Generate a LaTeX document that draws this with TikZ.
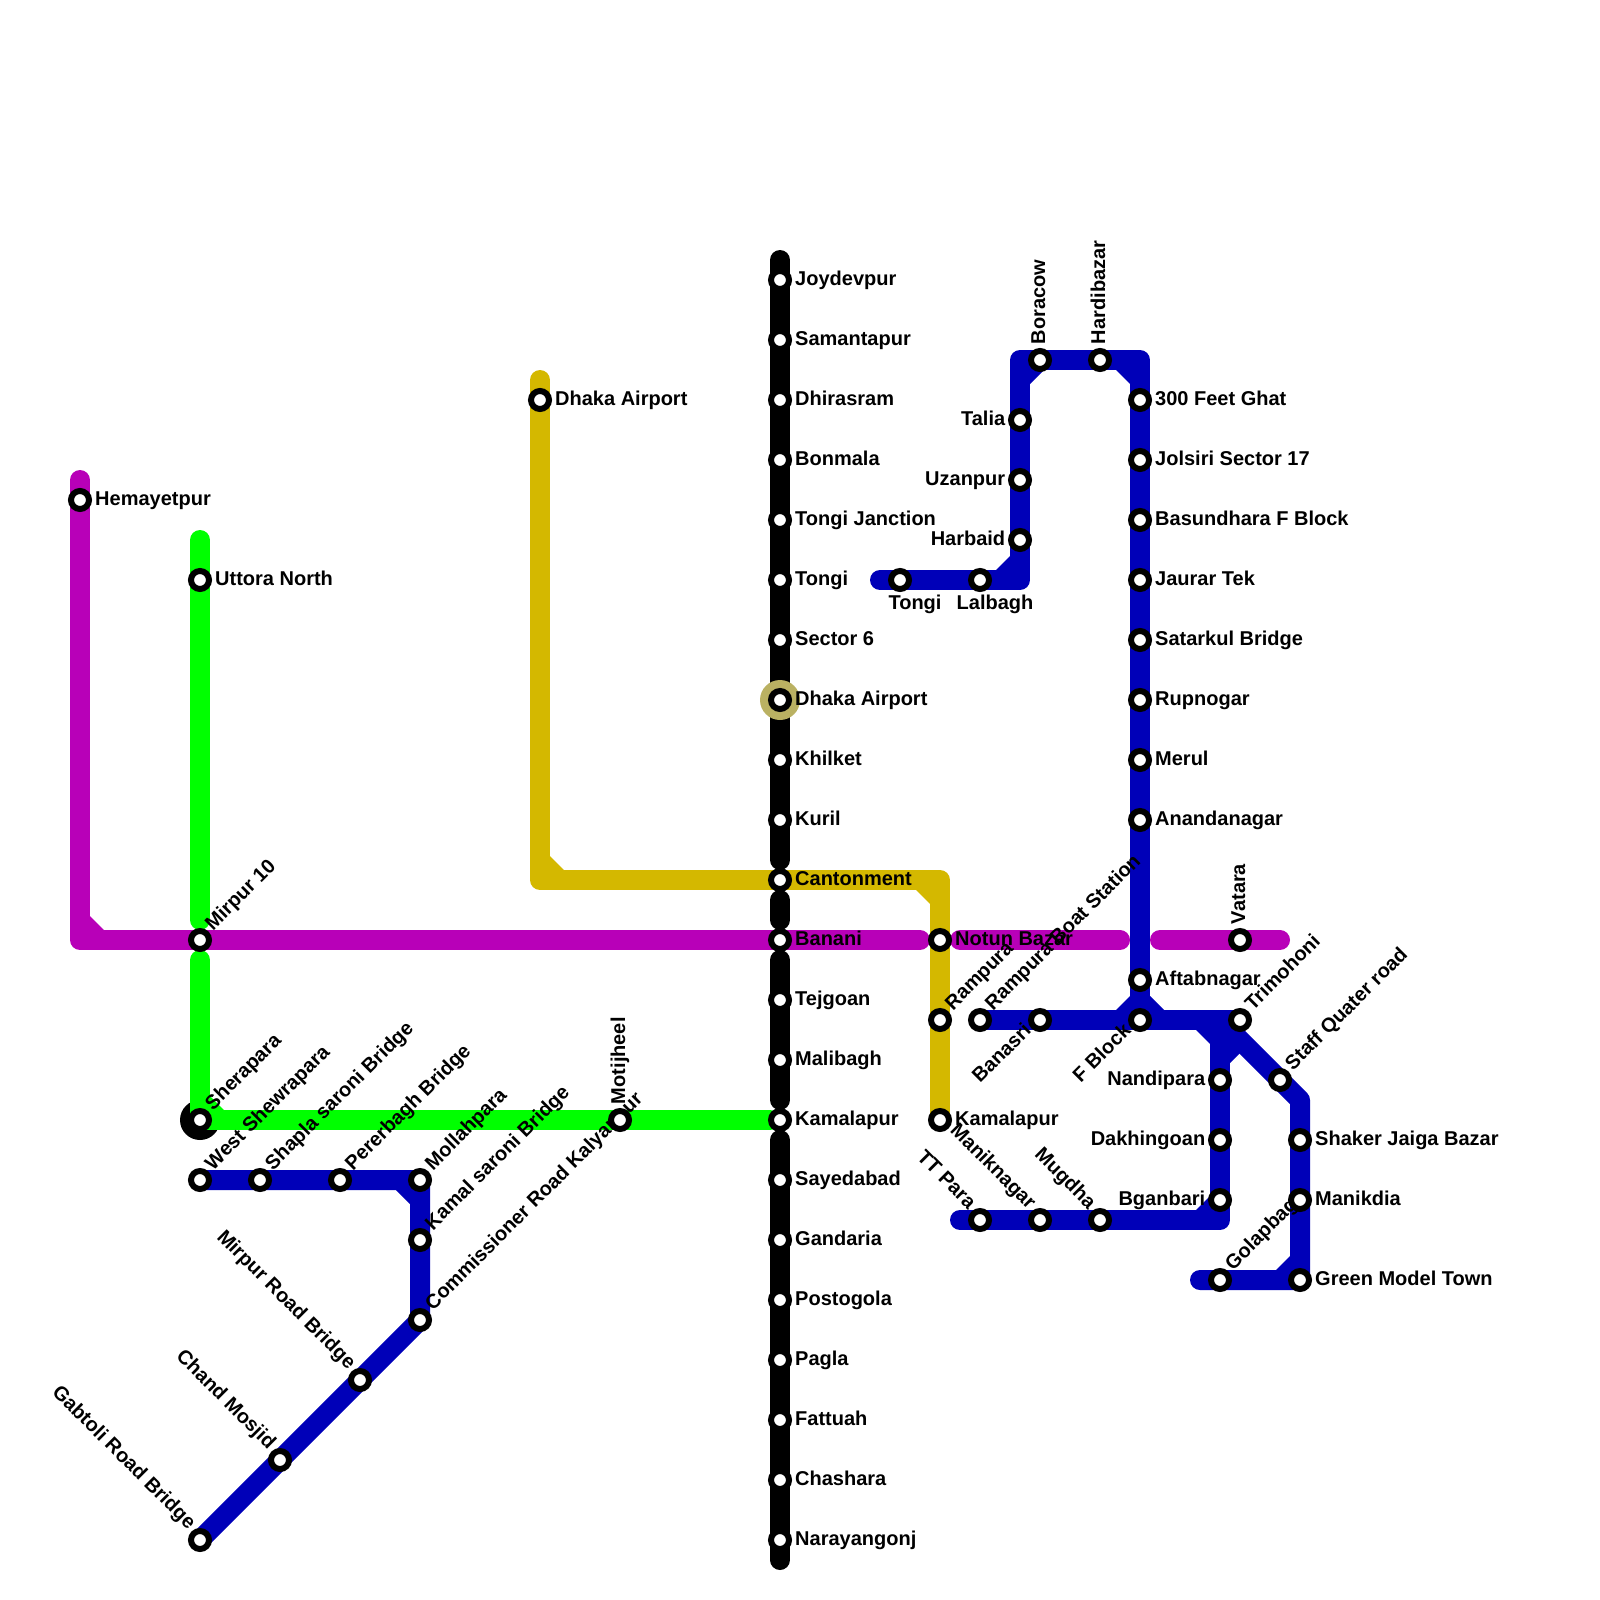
\documentclass[tikz,border=0pt]{standalone}
\usepackage{fontspec}
\setmainfont{Liberation Sans}
\pgfdeclarelayer{under}
\pgfdeclarelayer{labels}
\pgfsetlayers{under,labels,main}
\definecolor{cblue}{HTML}{0000B8}
\definecolor{cpurple}{HTML}{B800B8}
\definecolor{cgreen}{HTML}{00FF00}
\definecolor{cyellow}{HTML}{D4B800}
\definecolor{ckhaki}{HTML}{BAB162}
\tikzset{
  stn/.style={circle,draw=black,line width=3pt,fill=white,minimum size=9pt,inner sep=0pt,outer sep=0pt},
  txt/.style={font=\fontsize{10}{12}\selectfont\bfseries,inner sep=0pt,outer sep=0pt,text=black},
  labR/.style={txt,anchor=base west,xshift=7.6pt,yshift=-2.5pt},
  labL/.style={txt,anchor=base east,xshift=-7.4pt,yshift=-2.5pt},
  labB/.style={txt,anchor=base,xshift=7.5pt,yshift=-14.5pt},
  labU/.style={txt,anchor=base west,xshift=2.5pt,yshift=8pt,rotate=90},
  labNE/.style={txt,anchor=base west,xshift=6.5pt,yshift=4.5pt,rotate=45},
  labSW/.style={txt,anchor=base east,xshift=-4pt,yshift=-6pt,rotate=45},
  labNW/.style={txt,anchor=base east,xshift=-6pt,yshift=5pt,rotate=-45},
  metro/.style={line width=10pt,line cap=round,line join=round},
  ringK/.style={circle,fill=ckhaki,minimum size=20pt,inner sep=0pt,outer sep=0pt},
  ringB/.style={circle,fill=black,minimum size=20pt,inner sep=0pt,outer sep=0pt},
}
\newcommand{\st}[5]{%
  \node[stn] (#1) at (#2,#3) {};
  \begin{pgfonlayer}{labels}\node[#4] (l#1) at (#2,#3) {#5};\end{pgfonlayer}%
}
% chamfer in the inner side of a bend; #3,#4 give the side as +1/-1
\newcommand{\chamf}[4]{%
  \fill[#1,shift={(#2)}] (#3*24,#4*10) -- (#3*10,#4*24) -- (#3*5,#4*5) -- cycle;%
}
\begin{document}
\begin{tikzpicture}[x=0.5pt,y=-0.5pt]
\useasboundingbox (0,0) rectangle (1600,1600);

% Black line stations
\st{a1}{780}{280}{labR}{Joydevpur}
\st{a2}{780}{340}{labR}{Samantapur}
\st{a3}{780}{400}{labR}{Dhirasram}
\st{a4}{780}{460}{labR}{Bonmala}
\st{a5}{780}{520}{labR}{Tongi Janction}
\st{a6}{780}{580}{labR}{Tongi}
\st{a7}{780}{640}{labR}{Sector 6}
\st{a8}{780}{700}{labR}{Dhaka Airport}
\st{a9}{780}{760}{labR}{Khilket}
\st{a10}{780}{820}{labR}{Kuril}
\st{a11}{780}{880}{labR}{Cantonment}
\st{a12}{780}{940}{labR}{Banani}
\st{a13}{780}{1000}{labR}{Tejgoan}
\st{a14}{780}{1060}{labR}{Malibagh}
\st{a15}{780}{1120}{labR}{Kamalapur}
\st{a16}{780}{1180}{labR}{Sayedabad}
\st{a17}{780}{1240}{labR}{Gandaria}
\st{a18}{780}{1300}{labR}{Postogola}
\st{a19}{780}{1360}{labR}{Pagla}
\st{a20}{780}{1420}{labR}{Fattuah}
\st{a21}{780}{1480}{labR}{Chashara}
\st{a22}{780}{1540}{labR}{Narayangonj}
% Purple
\st{p1}{80}{500}{labR}{Hemayetpur}
\st{p2}{200}{940}{labNE}{Mirpur 10}
\st{p3}{940}{940}{labR}{Notun Bazar}
\st{p4}{1240}{940}{labU}{Vatara}
% Green
\st{g1}{200}{580}{labR}{Uttora North}
\st{g2}{200}{1120}{labNE}{Sherapara}
\st{g3}{620}{1120}{labU}{Motijheel}
% Yellow
\st{y1}{540}{400}{labR}{Dhaka Airport}
\st{y2}{940}{1020}{labNE}{Rampura}
\st{y3}{940}{1120}{labR}{Kamalapur}
% Blue, west
\st{b1}{200}{1180}{labNE}{West Shewrapara}
\st{b2}{260}{1180}{labNE}{Shapla saroni Bridge}
\st{b3}{340}{1180}{labNE}{Pererbagh Bridge}
\st{b4}{420}{1180}{labNE}{Mollahpara}
\st{b5}{420}{1240}{labNE}{Kamal saroni Bridge}
\st{b6}{420}{1320}{labNE}{Commissioner Road Kalyanpur}
\st{b7}{360}{1380}{labNW}{Mirpur Road Bridge}
\st{b8}{280}{1460}{labNW}{Chand Mosjid}
\st{b9}{200}{1540}{labNW}{Gabtoli Road Bridge}
% Blue, north-east
\st{c1}{900}{580}{labB}{Tongi}
\st{c2}{980}{580}{labB}{Lalbagh}
\st{c3}{1020}{540}{labL}{Harbaid}
\st{c4}{1020}{480}{labL}{Uzanpur}
\st{c5}{1020}{420}{labL}{Talia}
\st{c6}{1040}{360}{labU}{Boracow}
\st{c7}{1100}{360}{labU}{Hardibazar}
\st{c8}{1140}{400}{labR}{300 Feet Ghat}
\st{c9}{1140}{460}{labR}{Jolsiri Sector 17}
\st{c10}{1140}{520}{labR}{Basundhara F Block}
\st{c11}{1140}{580}{labR}{Jaurar Tek}
\st{c12}{1140}{640}{labR}{Satarkul Bridge}
\st{c13}{1140}{700}{labR}{Rupnogar}
\st{c14}{1140}{760}{labR}{Merul}
\st{c15}{1140}{820}{labR}{Anandanagar}
\st{c16}{1140}{980}{labR}{Aftabnagar}
\st{c17}{1140}{1020}{labSW}{F Block}
% Blue, cross line
\st{d1}{980}{1020}{labNE}{Rampura Boat Station}
\st{d2}{1040}{1020}{labSW}{Banasri}
\st{d3}{1240}{1020}{labNE}{Trimohoni}
\st{d4}{1280}{1080}{labNE}{Staff Quater road}
\st{d5}{1300}{1140}{labR}{Shaker Jaiga Bazar}
\st{d6}{1300}{1200}{labR}{Manikdia}
\st{d7}{1300}{1280}{labR}{Green Model Town}
\st{d8}{1220}{1280}{labNE}{Golapbag}
% Blue, south
\st{e1}{1220}{1080}{labL}{Nandipara}
\st{e2}{1220}{1140}{labL}{Dakhingoan}
\st{e3}{1220}{1200}{labL}{Bganbari}
\st{e4}{1100}{1220}{labNW}{Mugdha}
\st{e5}{1040}{1220}{labNW}{Maniknagar}
\st{e6}{980}{1220}{labNW}{TT Para}

% Free ends and bends
\coordinate (kT) at (780,260);
\coordinate (kA) at (780,860);
\coordinate (kB) at (780,900);
\coordinate (kC) at (780,920);
\coordinate (kD) at (780,960);
\coordinate (kE) at (780,1100);
\coordinate (kF) at (780,1140);
\coordinate (kG) at (780,1560);
\coordinate (yT) at (540,380);
\coordinate (yB) at (540,880);
\coordinate (yC) at (940,880);
\coordinate (pT) at (80,480);
\coordinate (pB) at (80,940);
\coordinate (pE) at (920,940);
\coordinate (pF) at (960,940);
\coordinate (pG) at (1120,940);
\coordinate (pH) at (1160,940);
\coordinate (pI) at (1280,940);
\coordinate (gT) at (200,540);
\coordinate (gA) at (200,920);
\coordinate (gB) at (200,960);
\coordinate (gE) at (770,1120);
\coordinate (cS) at (880,580);
\coordinate (cB) at (1020,580);
\coordinate (cC) at (1020,360);
\coordinate (cD) at (1140,360);
\coordinate (dJ) at (1220,1020);
\coordinate (dK) at (1300,1100);
\coordinate (dS) at (1200,1280);
\coordinate (eC) at (1220,1220);
\coordinate (eS) at (960,1220);

\begin{pgfonlayer}{under}
  \node[ringB] (rB) at (g2) {};
  \draw[metro,cpurple] (pT) -- (pB) -- (pE);
  \draw[metro,cpurple] (pF) -- (pG);
  \draw[metro,cpurple] (pH) -- (pI);
  \chamf{cpurple}{pB}{1}{-1}
  \draw[metro,black] (kT) -- (kA);
  \draw[metro,black] (kB) -- (kC);
  \draw[metro,black] (kD) -- (kE);
  \draw[metro,black] (kF) -- (kG);
  \node[ringK] (rK) at (a8) {};
  \draw[metro,cyellow] (yT) -- (yB) -- (yC) -- (y3.center);
  \chamf{cyellow}{yB}{1}{-1}
  \chamf{cyellow}{yC}{-1}{1}
  \draw[metro,cgreen] (gT) -- (gA);
  \draw[metro,cgreen] (gB) -- (g2.center) -- (gE);
  \chamf{cgreen}{g2}{1}{-1}
  \draw[metro,cblue] (b1.center) -- (b4.center) -- (b6.center) -- (b9.center);
  \chamf{cblue}{b4}{-1}{1}
  \draw[metro,cblue] (cS) -- (cB) -- (cC) -- (cD) -- (c17.center);
  \chamf{cblue}{cB}{-1}{-1}
  \chamf{cblue}{cC}{1}{1}
  \chamf{cblue}{cD}{-1}{1}
  \draw[metro,cblue] (d1.center) -- (d3.center);
  \chamf{cblue}{c17}{-1}{-1}
  \chamf{cblue}{c17}{1}{-1}
  \draw[metro,cblue] (dJ) -- (dK) -- (d7.center) -- (dS);
  \chamf{cblue}{d7}{-1}{-1}
  \draw[metro,cblue] (dJ) -- (eC) -- (eS);
  \chamf{cblue}{dJ}{-1}{1}
  \chamf{cblue}{eC}{-1}{-1}
  \fill[cblue,shift={(dJ)}] (10,43) -- (20,33) -- (10,20) -- cycle;
\end{pgfonlayer}
\end{tikzpicture}
\end{document}
